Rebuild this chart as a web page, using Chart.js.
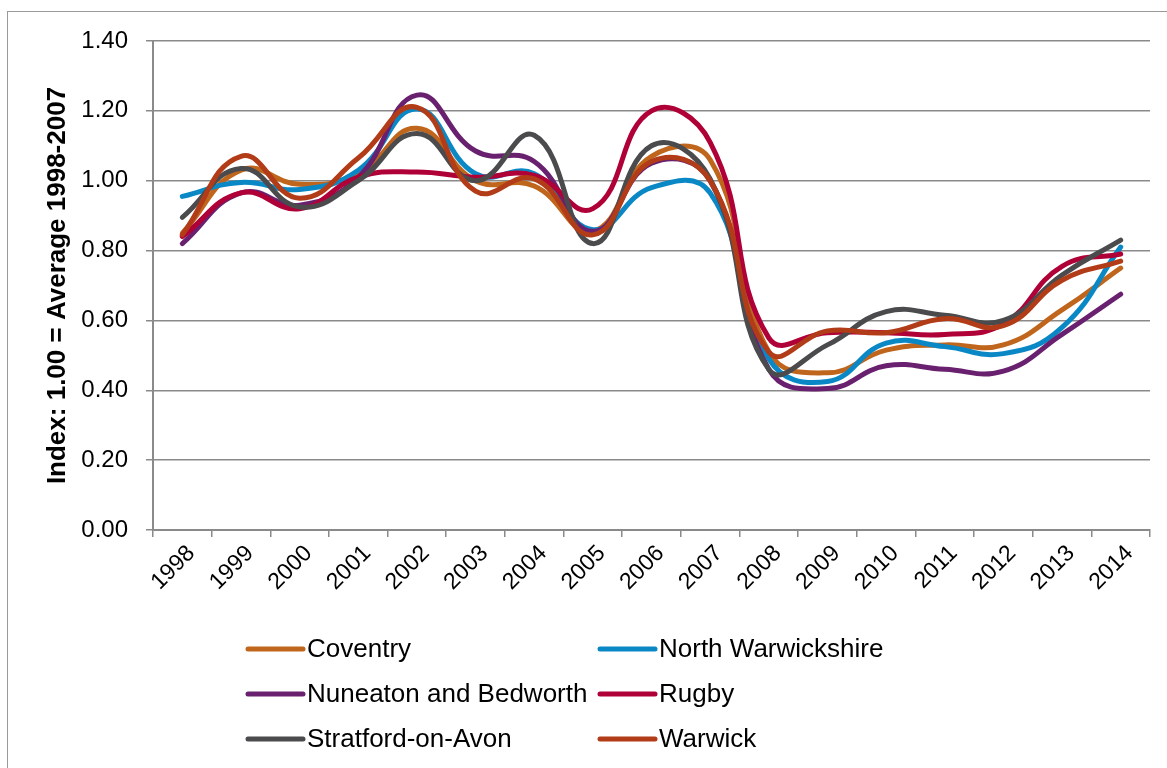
<!DOCTYPE html>
<html>
<head>
<meta charset="utf-8">
<script src="https://cdn.jsdelivr.net/npm/chart.js@4.4.1/dist/chart.umd.min.js"></script>
<style>
  html, body { margin: 0; padding: 0; background: #fff; }
  #wrap { width: 1167px; height: 768px; }
</style>
</head>
<body>
<div id="wrap"><canvas id="myLineChart" width="1167" height="768"></canvas></div>
<script>
const years = ["1998", "1999", "2000", "2001", "2002", "2003", "2004", "2005", "2006",
  "2007", "2008", "2009", "2010", "2011", "2012", "2013", "2014"];

const coventry = [0.85, 1.03, 0.99, 1.02, 1.15, 1.00, 0.985, 0.855, 1.07, 1.06, 0.51, 0.45, 0.515, 0.53, 0.53, 0.63, 0.75];
const northWarwickshire = [0.955, 0.995, 0.975, 1.03, 1.205, 1.02, 1.02, 0.86, 0.98, 0.965, 0.49, 0.425, 0.535, 0.525, 0.505, 0.58, 0.81];
const nuneaton = [0.82, 0.965, 0.93, 1.01, 1.245, 1.085, 1.055, 0.855, 1.05, 1.0, 0.46, 0.405, 0.47, 0.46, 0.455, 0.56, 0.675];
const rugby = [0.84, 0.965, 0.92, 1.01, 1.025, 1.01, 1.015, 0.92, 1.20, 1.11, 0.55, 0.565, 0.565, 0.56, 0.59, 0.755, 0.79];
const stratford = [0.895, 1.035, 0.925, 1.0, 1.135, 1.0, 1.13, 0.82, 1.10, 1.005, 0.46, 0.53, 0.625, 0.615, 0.60, 0.73, 0.83];
const warwick = [0.845, 1.07, 0.95, 1.065, 1.21, 0.97, 1.005, 0.845, 1.055, 1.0, 0.51, 0.57, 0.565, 0.605, 0.585, 0.715, 0.77];

const seriesNames = ["Coventry", "North Warwickshire", "Nuneaton and Bedworth", "Rugby", "Stratford-on-Avon", "Warwick"];
const seriesValues = [coventry, northWarwickshire, nuneaton, rugby, stratford, warwick];
const seriesColors = ["#C0661C", "#0A88C6", "#69216F", "#B00038", "#4B4B4D", "#B13C17"];

const FONT = "'Liberation Sans', Arial, sans-serif";
const GRID = "#8a8a8a";

// outer frame of the chart object
const frame = {
  id: "frame",
  beforeDraw(chart) {
    const { ctx } = chart;
    ctx.save();
    ctx.fillStyle = "#fff";
    ctx.fillRect(0, 0, chart.width, chart.height);
    ctx.strokeStyle = "#9a9a9a";
    ctx.lineWidth = 1;
    ctx.strokeRect(7.5, 11.5, chart.width + 20, chart.height + 20);
    ctx.restore();
  },
};

// two column legend under the axis
const twoColLegend = {
  id: "twoColLegend",
  afterDraw(chart) {
    const { ctx } = chart;
    const colX = [248, 600];
    const rowY = [649, 694, 739];
    ctx.save();
    ctx.font = "26px " + FONT;
    ctx.textBaseline = "middle";
    ctx.textAlign = "left";
    chart.data.datasets.forEach((ds, i) => {
      const x = colX[i % 2];
      const y = rowY[Math.floor(i / 2)];
      ctx.beginPath();
      ctx.strokeStyle = ds.borderColor;
      ctx.lineWidth = 5;
      ctx.lineCap = "round";
      ctx.moveTo(x, y);
      ctx.lineTo(x + 55, y);
      ctx.stroke();
      ctx.fillStyle = "#000";
      ctx.fillText(ds.label, x + 59, y + 1);
    });
    ctx.restore();
  },
};

const ctx = document.getElementById("myLineChart").getContext("2d");

const myLineChart = new Chart(ctx, {
  type: "line",
  data: {
    labels: years,
    datasets: seriesNames.map((name, i) => ({
      label: name,
      data: seriesValues[i],
      borderColor: seriesColors[i],
      backgroundColor: seriesColors[i],
      borderWidth: 5,
      borderCapStyle: "round",
      pointRadius: 0,
      tension: 0.45,
      fill: false,
      order: seriesNames.length - i,
    })),
  },
  options: {
    responsive: false,
    animation: false,
    layout: {
      padding: { left: 0, top: 41, right: 17, bottom: 0 },
    },
    plugins: {
      legend: { display: false },
      tooltip: { enabled: false },
    },
    scales: {
      x: {
        offset: true,
        grid: {
          offset: true,
          drawOnChartArea: false,
          drawTicks: true,
          tickLength: 7,
          color: GRID,
          lineWidth: 1.5,
        },
        border: { display: true, color: GRID, width: 2 },
        ticks: {
          autoSkip: false,
          maxRotation: 45,
          minRotation: 45,
          padding: 3,
          labelOffset: 9,
          color: "#000",
          font: { family: FONT, size: 23 },
        },
        afterFit(scale) {
          scale.height = 238;
        },
      },
      y: {
        min: 0,
        max: 1.4,
        ticks: {
          stepSize: 0.2,
          padding: 18,
          color: "#000",
          font: { family: FONT, size: 24 },
          callback: (v) => Number(v).toFixed(2),
        },
        grid: {
          color: GRID,
          lineWidth: 1.5,
          tickLength: 7,
        },
        border: { display: true, color: GRID, width: 2 },
        title: {
          display: true,
          text: "Index: 1.00 = Average 1998-2007",
          color: "#000",
          font: { family: FONT, size: 26, weight: "bold" },
          padding: { top: 42, bottom: 0 },
        },
        afterFit(scale) {
          scale.width = 153;
        },
      },
    },
  },
  plugins: [frame, twoColLegend],
});
</script>
</body>
</html>
